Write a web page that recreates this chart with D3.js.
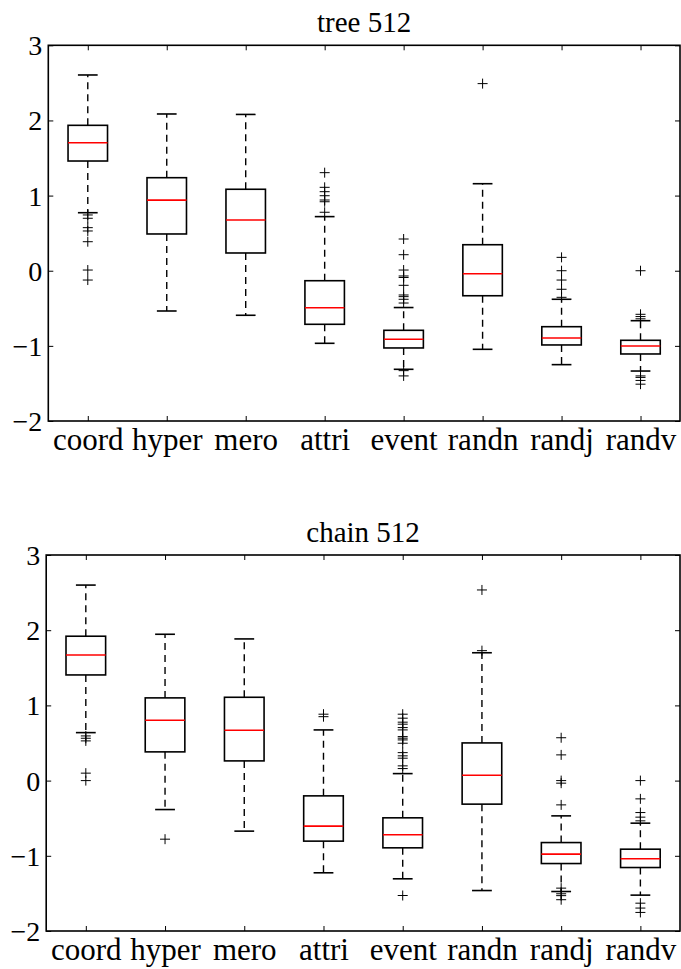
<!DOCTYPE html>
<html>
<head>
<meta charset="utf-8">
<script src="https://cdn.jsdelivr.net/npm/d3@7"></script>
<style>
  body { margin: 0; background: #fff; }
  svg { display: block; }
</style>
</head>
<body>
<div id="chart"></div>
<script>
// categories on the x axis
var categories = ["coord", "hyper", "mero", "attri", "event", "randn", "randj", "randv"];
var yTicks = [-2, -1, 0, 1, 2, 3];

// tree 512 box stats
var treeLow    = [0.772, -0.536, -0.593, -0.966, -1.312, -1.046, -1.25, -1.335];
var treeQ1     = [1.46, 0.489, 0.236, -0.713, -1.028, -0.333, -0.988, -1.108];
var treeMedian = [1.704, 0.94, 0.675, -0.492, -0.913, -0.04, -0.895, -1.002];
var treeQ3     = [1.935, 1.238, 1.084, -0.133, -0.793, 0.346, -0.745, -0.926];
var treeHigh   = [2.605, 2.086, 2.08, 0.72, -0.49, 1.158, -0.38, -0.665];
var treeFliers = [
  [0.742, 0.698, 0.573, 0.529, 0.386, 0.009, -0.124],
  [],
  [],
  [1.305, 1.11, 1.052, 0.998, 0.941, 0.918, 0.778],
  [0.422, 0.213, 0.009, -0.07, -0.09, -0.194, -0.323, -0.345, -0.38, -0.43, -1.33, -1.40],
  [2.49],
  [0.178, 0.0, -0.124, -0.247, -0.354],
  [0.0, -0.58, -0.61, -0.64, -1.40, -1.42, -1.46, -1.51]
];

// chain 512 box stats
var chainLow    = [0.638, -0.385, -0.672, -1.226, -1.306, -1.462, -1.475, -1.523];
var chainQ1     = [1.405, 0.382, 0.262, -0.805, -0.894, -0.313, -1.103, -1.156];
var chainMedian = [1.671, 0.803, 0.67, -0.606, -0.721, 0.072, -0.978, -1.04];
var chainQ3     = [1.92, 1.10, 1.108, -0.203, -0.495, 0.501, -0.824, -0.912];
var chainHigh   = [2.60, 1.946, 1.884, 0.674, 0.093, 1.70, -0.469, -0.566];
var chainFliers = [
  [0.594, 0.563, 0.528, 0.099, 0.0],
  [-0.779],
  [],
  [0.883, 0.85],
  [0.883, 0.83, 0.777, 0.75, 0.705, 0.674, 0.585, 0.564, 0.541, 0.497, 0.372, 0.329, 0.298, 0.196, 0.16, -1.528],
  [2.535, 1.728],
  [0.57, 0.342, 0.0, -0.034, -0.323, -1.43, -1.505, -1.53, -1.584],
  [0.0, -0.243, -0.425, -0.486, -0.535, -1.63, -1.695, -1.753]
];

var W = 681, H = 969;
var serif = "'Liberation Serif', 'DejaVu Serif', serif";

var svg = d3.select("#chart")
  .append("svg")
    .attr("width", W)
    .attr("height", H);

function drawPanel(title, box, low, q1, med, q3, high, fliers) {
  var x = d3.scaleLinear().domain([0.5, categories.length + 0.5]).range([box.left, box.right]);
  var y = d3.scaleLinear().domain([-2, 3]).range([box.bottom, box.top]);

  var g = svg.append("g");
  var fmt = d3.format("d");

  // ticks pointing inward on all four sides
  var bottomAxis = g.append("g")
    .attr("transform", "translate(0," + box.bottom + ")")
    .call(d3.axisBottom(x).tickValues(d3.range(1, categories.length + 1))
      .tickSize(-5).tickSizeOuter(0)
      .tickFormat(function(d) { return categories[d - 1]; }));
  bottomAxis.selectAll("text")
    .attr("y", 29).attr("dy", 0)
    .style("font-family", serif)
    .style("font-size", "31px");

  g.append("g")
    .attr("transform", "translate(0," + box.top + ")")
    .call(d3.axisTop(x).tickValues(d3.range(1, categories.length + 1))
      .tickSize(-5).tickSizeOuter(0).tickFormat(""));

  var leftAxis = g.append("g")
    .attr("transform", "translate(" + box.left + ",0)")
    .call(d3.axisLeft(y).tickValues(yTicks).tickSize(-5).tickSizeOuter(0)
      .tickPadding(6).tickFormat(fmt));
  leftAxis.selectAll("text")
    .attr("dy", "0.34em")
    .style("font-family", serif)
    .style("font-size", "28px");

  g.append("g")
    .attr("transform", "translate(" + box.right + ",0)")
    .call(d3.axisRight(y).tickValues(yTicks).tickSize(-5).tickSizeOuter(0).tickFormat(""));

  g.selectAll(".domain").remove();
  g.selectAll(".tick line").attr("stroke", "#000").attr("stroke-width", 1);
  g.selectAll("g").attr("font-family", null);

  // frame
  g.append("rect")
    .attr("x", box.left).attr("y", box.top)
    .attr("width", box.right - box.left)
    .attr("height", box.bottom - box.top)
    .attr("fill", "none")
    .attr("stroke", "#000")
    .attr("stroke-width", 1.6);

  g.append("text")
    .attr("x", (box.left + box.right) / 2)
    .attr("y", box.top - 13)
    .attr("text-anchor", "middle")
    .style("font-family", serif)
    .style("font-size", "29px")
    .text(title);

  var halfBox = x(1.25) - x(1);
  var halfCap = x(1.125) - x(1);

  var items = g.selectAll(".item")
    .data(categories)
    .enter().append("g")
      .attr("class", "item");

  // whiskers
  items.append("line")
    .attr("x1", function(d, i) { return x(i + 1); })
    .attr("x2", function(d, i) { return x(i + 1); })
    .attr("y1", function(d, i) { return y(q3[i]); })
    .attr("y2", function(d, i) { return y(high[i]); })
    .attr("stroke", "#000").attr("stroke-width", 1.4)
    .attr("stroke-dasharray", "7,5");
  items.append("line")
    .attr("x1", function(d, i) { return x(i + 1); })
    .attr("x2", function(d, i) { return x(i + 1); })
    .attr("y1", function(d, i) { return y(q1[i]); })
    .attr("y2", function(d, i) { return y(low[i]); })
    .attr("stroke", "#000").attr("stroke-width", 1.4)
    .attr("stroke-dasharray", "7,5");

  // caps
  [high, low].forEach(function(arr) {
    items.append("line")
      .attr("x1", function(d, i) { return x(i + 1) - halfCap; })
      .attr("x2", function(d, i) { return x(i + 1) + halfCap; })
      .attr("y1", function(d, i) { return y(arr[i]); })
      .attr("y2", function(d, i) { return y(arr[i]); })
      .attr("stroke", "#000").attr("stroke-width", 1.6);
  });

  // boxes
  items.append("rect")
    .attr("x", function(d, i) { return x(i + 1) - halfBox; })
    .attr("y", function(d, i) { return y(q3[i]); })
    .attr("width", halfBox * 2)
    .attr("height", function(d, i) { return y(q1[i]) - y(q3[i]); })
    .attr("fill", "none")
    .attr("stroke", "#000").attr("stroke-width", 1.6);

  // medians
  items.append("line")
    .attr("x1", function(d, i) { return x(i + 1) - halfBox; })
    .attr("x2", function(d, i) { return x(i + 1) + halfBox; })
    .attr("y1", function(d, i) { return y(med[i]); })
    .attr("y2", function(d, i) { return y(med[i]); })
    .attr("stroke", "#ff0000").attr("stroke-width", 1.6);

  // fliers as '+'
  items.each(function(d, i) {
    var cx = x(i + 1);
    d3.select(this).selectAll(".flier")
      .data(fliers[i])
      .enter().append("path")
        .attr("class", "flier")
        .attr("d", function(v) {
          var cy = y(v), s = 5;
          return "M" + (cx - s) + "," + cy + "H" + (cx + s) +
                 "M" + cx + "," + (cy - s) + "V" + (cy + s);
        })
        .attr("stroke", "#000")
        .attr("stroke-width", 1)
        .attr("fill", "none");
  });
}

drawPanel("tree 512", {left: 48.3, right: 680, top: 45.3, bottom: 421},
  treeLow, treeQ1, treeMedian, treeQ3, treeHigh, treeFliers);
drawPanel("chain 512", {left: 46.2, right: 680, top: 555, bottom: 931},
  chainLow, chainQ1, chainMedian, chainQ3, chainHigh, chainFliers);
</script>
</body>
</html>
